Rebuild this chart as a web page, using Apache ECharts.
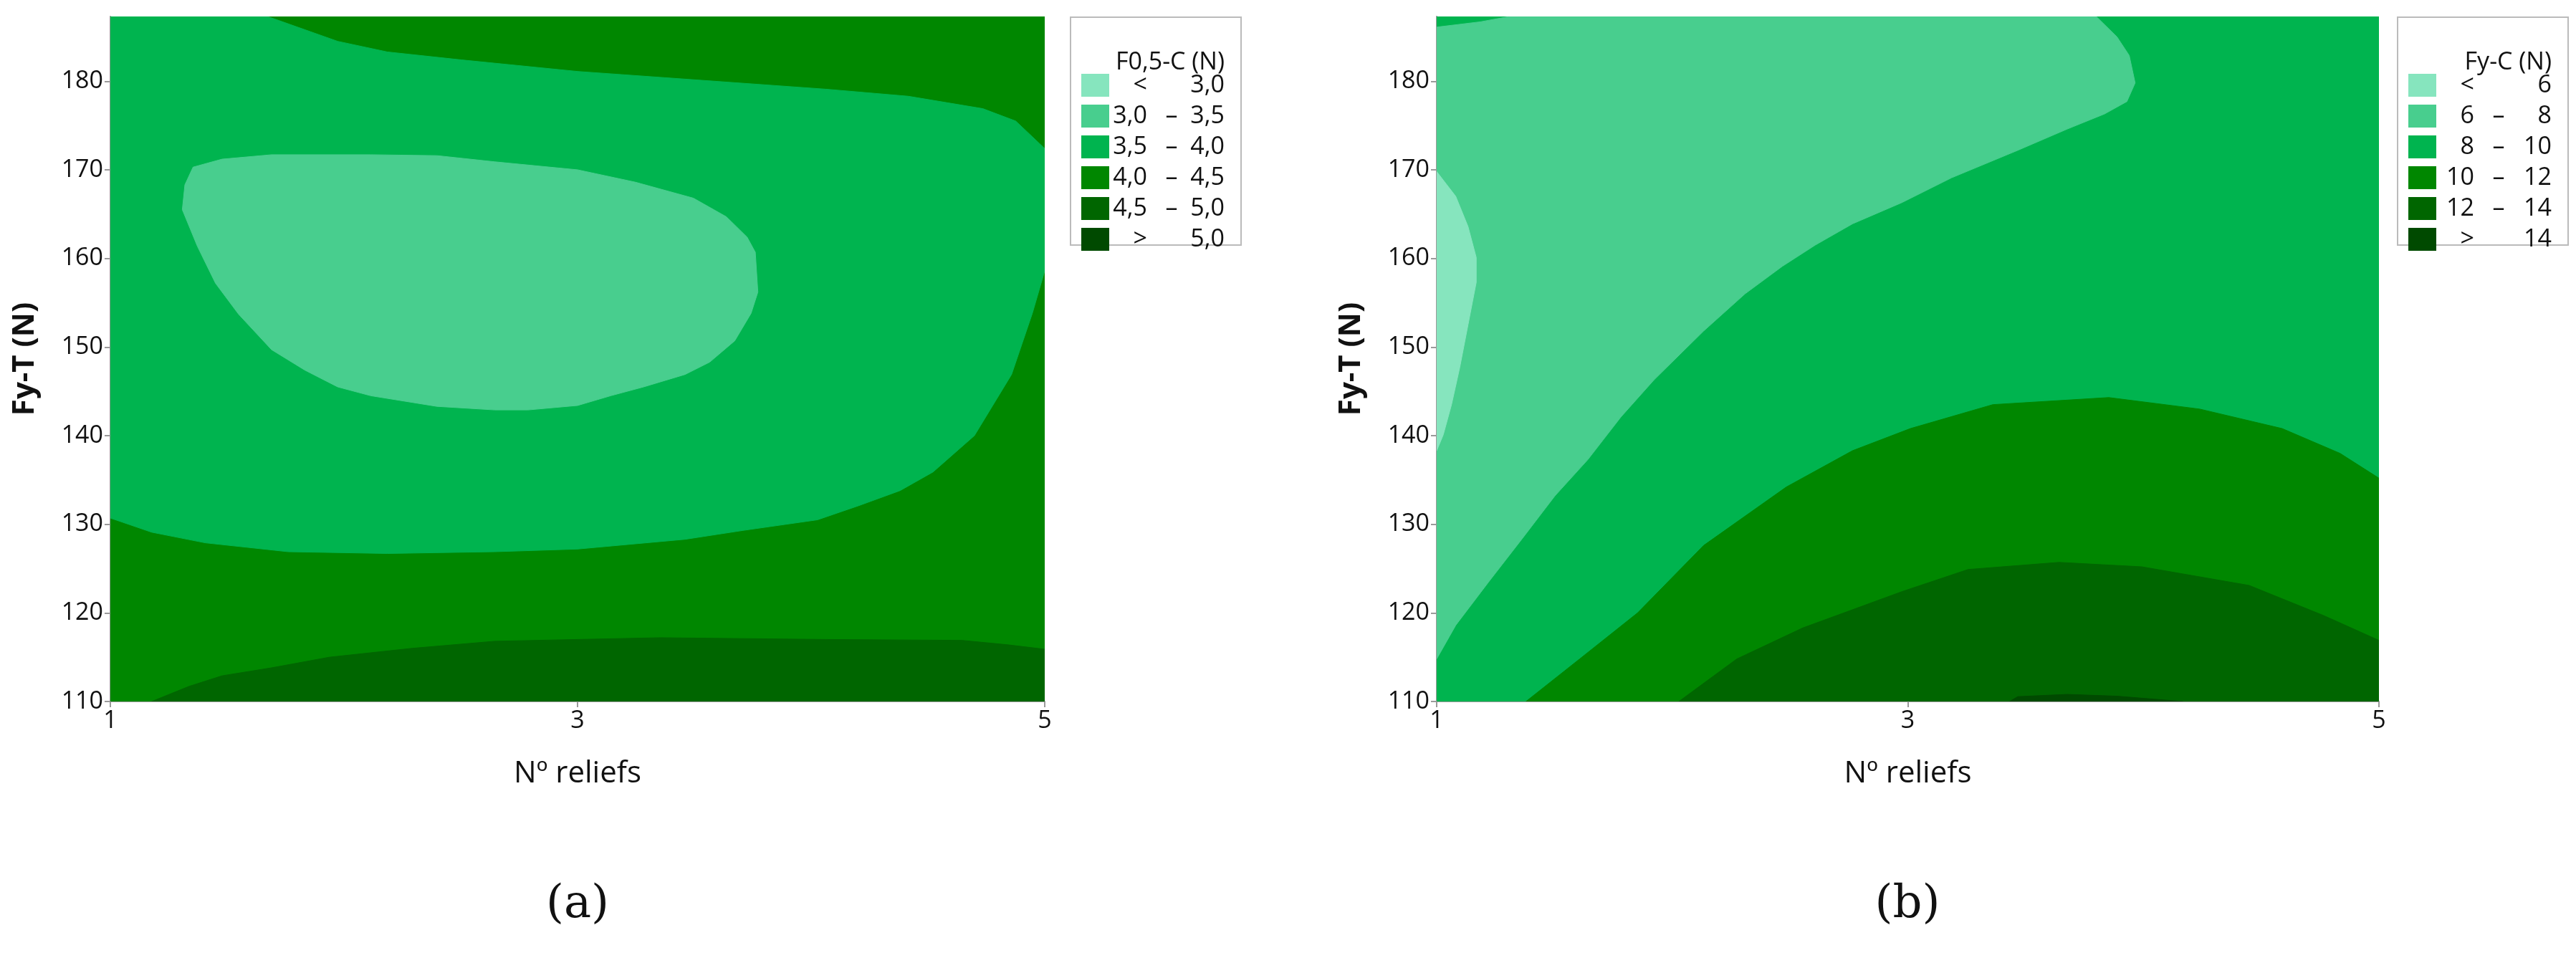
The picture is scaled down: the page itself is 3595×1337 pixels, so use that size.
<!DOCTYPE html>
<html><head><meta charset="utf-8">
<script src="https://cdn.jsdelivr.net/npm/echarts@6/dist/echarts.min.js"></script>
<style>html,body{margin:0;background:#fff}#c{width:3595px;height:1337px}</style>
</head><body><div id="c"></div>
<script>
var Y_MAX = 187.3;
var colorsA = ['#86E5BE', '#48CE8E', '#00B44F', '#008700', '#006600', '#004A00'];
var legendA = [['<', '', '3,0'], ['3,0', '–', '3,5'], ['3,5', '–', '4,0'], ['4,0', '–', '4,5'], ['4,5', '–', '5,0'], ['>', '', '5,0']];
var legendB = [['<', '', '6'], ['6', '–', '8'], ['8', '–', '10'], ['10', '–', '12'], ['12', '–', '14'], ['>', '', '14']];

// plot (a) regions, drawn in order (color index, boundary in data coords)
var a_base = [[1,110],[5,110],[5,Y_MAX],[1,Y_MAX]];
var a_mid = [[1.673,Y_MAX],[1.973,184.5],[2.186,183.3],[2.504,182.4],[3.0,181.1],[3.531,180.1],[4.062,179.1],[4.416,178.3],[4.735,176.9],[4.876,175.5],[5,172.4],[5,158.6],[4.947,153.8],[4.858,146.9],[4.699,140.0],[4.522,135.9],[4.381,133.8],[4.204,132.1],[4.027,130.5],[3.708,129.3],[3.46,128.3],[3.0,127.2],[2.646,126.9],[2.186,126.7],[1.761,126.9],[1.407,127.9],[1.177,129.1],[1,130.7],[1,Y_MAX]];
var a_light = [[1.354,170.3],[1.478,171.2],[1.69,171.7],[2.115,171.7],[2.398,171.6],[2.646,170.9],[3.0,170.0],[3.248,168.6],[3.496,166.8],[3.637,164.7],[3.726,162.4],[3.761,160.7],[3.772,156.2],[3.743,153.8],[3.673,150.7],[3.566,148.3],[3.46,146.9],[3.283,145.5],[3.142,144.5],[3.0,143.4],[2.788,142.9],[2.646,142.9],[2.398,143.3],[2.115,144.5],[1.973,145.5],[1.832,147.4],[1.69,149.7],[1.549,153.7],[1.45,157.2],[1.372,161.4],[1.308,165.5],[1.319,168.3]];
var a_dark = [[1.177,110],[1.336,111.7],[1.478,112.9],[1.69,113.8],[1.938,115.0],[2.292,116.0],[2.646,116.8],[3.354,117.2],[4.062,117.0],[4.646,116.9],[4.841,116.4],[5,115.9],[5,110]];

// plot (b) regions
var b_base = [[1,110],[5,110],[5,Y_MAX],[1,Y_MAX]];
var b_68 = [[1.309,Y_MAX],[3.8,Y_MAX],[3.888,185.0],[3.94,182.9],[3.965,179.8],[3.93,177.7],[3.835,176.3],[3.677,174.6],[3.467,172.2],[3.186,169.1],[2.975,166.3],[2.765,163.9],[2.607,161.5],[2.467,159.1],[2.309,156.0],[2.133,151.8],[1.923,146.3],[1.782,142.1],[1.642,137.3],[1.502,133.2],[1.361,128.3],[1.221,123.5],[1.081,118.6],[1,114.8],[1,186.1],[1.186,186.7]];
var b_lt6 = [[1,169.8],[1.081,167.0],[1.133,163.6],[1.168,160.1],[1.168,157.3],[1.133,152.5],[1.098,147.7],[1.063,143.5],[1.028,140.1],[1,138.3]];
var b_1012 = [[1.379,110],[1.607,114.8],[1.853,120.0],[2.133,127.6],[2.484,134.2],[2.765,138.3],[3.011,140.8],[3.361,143.5],[3.853,144.3],[4.239,143.0],[4.589,140.8],[4.835,138.0],[5,135.2],[5,110]];
var b_1214 = [[2.028,110],[2.274,114.8],[2.554,118.3],[2.975,122.4],[3.256,124.9],[3.642,125.7],[3.993,125.2],[4.449,123.1],[4.765,119.7],[5,116.9],[5,110]];
var b_gt14 = [[3.432,110],[3.467,110.55],[3.677,110.8],[3.888,110.6],[4.168,110]];

var layersA = [[3, a_base], [2, a_mid], [1, a_light], [4, a_dark]];
var layersB = [[2, b_base], [1, b_68], [0, b_lt6], [3, b_1012], [4, b_1214], [5, b_gt14]];

var FONT = 'Open Sans';
function axes(idx) {
  var common = {
    gridIndex: idx, axisLine: {show: true, lineStyle: {color: '#9a9a9a', width: 2}},
    axisTick: {show: true, length: 8, lineStyle: {color: '#9a9a9a', width: 2}},
    splitLine: {show: false},
    axisLabel: {color: '#111', fontSize: 34, fontFamily: FONT, margin: 10}
  };
  return {
    x: Object.assign({}, common, {type: 'value', min: 1, max: 5, interval: 2, name: 'Nº reliefs',
      nameLocation: 'middle', nameGap: 80, nameTextStyle: {fontSize: 42, fontFamily: FONT, color: '#111'}}),
    y: Object.assign({}, common, {type: 'value', min: 110, max: Y_MAX, interval: 10, name: 'Fy-T (N)',
      nameLocation: 'middle', nameGap: 98, nameTextStyle: {fontSize: 42, fontWeight: 'bold', fontFamily: FONT, color: '#111'},
      axisLabel: Object.assign({}, common.axisLabel, {showMaxLabel: false})})
  };
}
function layerSeries(layers, idx, colors) {
  return layers.map(function (l) {
    return {
      type: 'custom', xAxisIndex: idx, yAxisIndex: idx, clip: true, silent: true,
      data: [0],
      renderItem: function (params, api) {
        return {type: 'polygon', shape: {points: l[1].map(function (p) { return api.coord(p); })},
          style: {fill: colors[l[0]], stroke: colors[l[0]], lineWidth: 1}};
      }
    };
  });
}
function legendGraphic(left, top, w, title, rows) {
  var els = [{type: 'rect', left: left, top: top, shape: {width: w, height: 318},
    style: {fill: '#fff', stroke: '#bbb', lineWidth: 2}}];
  els.push({type: 'text', x: left + w - 22, y: top + 64, style: {text: title, fontSize: 34, fontFamily: FONT,
    fill: '#111', textAlign: 'right', textVerticalAlign: 'middle'}});
  rows.forEach(function (r, i) {
    var cy = top + 96 + i * 43;
    els.push({type: 'rect', shape: {x: left + 16, y: cy - 16, width: 39, height: 32}, style: {fill: colorsA[i]}});
    els.push({type: 'text', x: left + 108, y: cy, style: {text: r[0], fontSize: 34, fontFamily: FONT, fill: '#111', textAlign: 'right', textVerticalAlign: 'middle'}});
    els.push({type: 'text', x: left + 142, y: cy, style: {text: r[1], fontSize: 34, fontFamily: FONT, fill: '#111', textAlign: 'center', textVerticalAlign: 'middle'}});
    els.push({type: 'text', x: left + w - 22, y: cy, style: {text: r[2], fontSize: 34, fontFamily: FONT, fill: '#111', textAlign: 'right', textVerticalAlign: 'middle'}});
  });
  return els;
}
var ax0 = axes(0), ax1 = axes(1);
var chart = echarts.init(document.getElementById('c'));
chart.setOption({
  animation: false,
  grid: [{left: 154, top: 23, width: 1304, height: 956}, {left: 2005, top: 23, width: 1315, height: 956}],
  xAxis: [ax0.x, ax1.x],
  yAxis: [ax0.y, ax1.y],
  series: layerSeries(layersA, 0, colorsA).concat(layerSeries(layersB, 1, colorsA)),
  graphic: legendGraphic(1493, 23, 238, 'F0,5-C (N)', legendA)
    .concat(legendGraphic(3345, 23, 238, 'Fy-C (N)', legendB))
    .concat([
      {type: 'text', x: 806, y: 1263, style: {text: '(a)', fontSize: 64, fontFamily: 'DejaVu Serif', fill: '#111', textAlign: 'center', textVerticalAlign: 'middle', rich: {}}},
      {type: 'text', x: 2662, y: 1263, style: {text: '(b)', fontSize: 64, fontFamily: 'DejaVu Serif', fill: '#111', textAlign: 'center', textVerticalAlign: 'middle'}}
    ])
});
</script></body></html>
